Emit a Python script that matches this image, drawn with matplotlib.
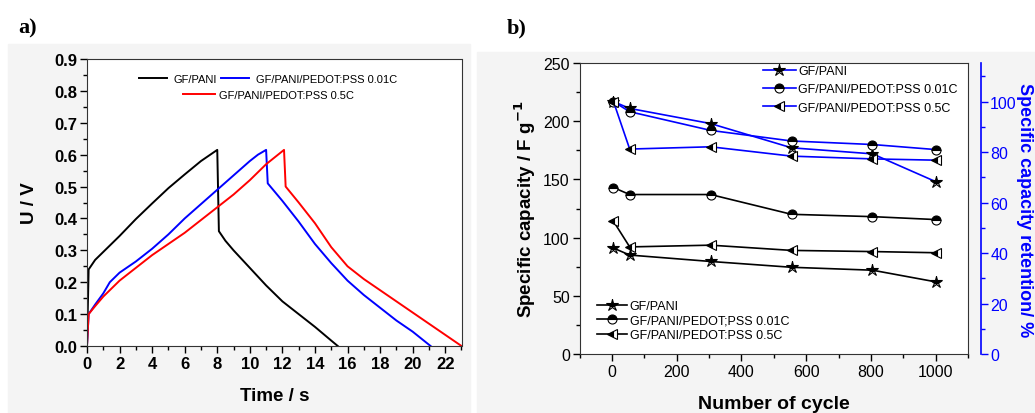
import matplotlib.pyplot as plt
from matplotlib.patches import Rectangle
from matplotlib.ticker import MultipleLocator

plt.rcParams['font.family'] = ['Liberation Sans', 'DejaVu Sans']

# a) galvanostatic charge / discharge curves (time in s, U in V)
pani_t = [0, 0.1, 0.5, 1, 2, 3, 4, 5, 6, 7, 8, 8.1, 8.5, 9, 10, 11, 12, 13, 14, 15, 15.4]
pani_u = [0, 0.24, 0.27, 0.295, 0.345, 0.398, 0.447, 0.495, 0.538, 0.58, 0.615,
          0.36, 0.33, 0.30, 0.245, 0.19, 0.14, 0.10, 0.06, 0.017, 0]
pedot01_t = [0, 0.1, 0.5, 1, 1.4, 2, 3, 4, 5, 6, 7, 8, 9, 10, 10.5, 11,
             11.1, 12, 13, 14, 15, 16, 17, 18, 19, 20, 21.1]
pedot01_u = [0, 0.1, 0.13, 0.165, 0.2, 0.23, 0.265, 0.305, 0.35, 0.4, 0.445, 0.49, 0.535,
             0.58, 0.6, 0.615, 0.51, 0.455, 0.39, 0.32, 0.26, 0.205, 0.16, 0.12, 0.08, 0.045, 0]
pedot05_t = [0, 0.1, 0.5, 1, 2, 3, 4, 5, 6, 7, 8, 9, 10, 11, 12.1,
             12.2, 13, 14, 15, 16, 17, 18, 19, 20, 21, 22, 23]
pedot05_u = [0, 0.1, 0.125, 0.155, 0.205, 0.245, 0.285, 0.32, 0.355, 0.395, 0.435, 0.475,
             0.52, 0.57, 0.615, 0.50, 0.45, 0.385, 0.31, 0.25, 0.21, 0.175, 0.14, 0.105,
             0.07, 0.035, 0]

# b) cycling: specific capacity (F/g) and retention (%)
cycles = [5, 55, 305, 555, 805, 1000]
cap_pani = [91, 85, 79.5, 74.5, 72, 62]
cap_pedot01 = [143, 137, 137, 120, 118, 115.5]
cap_pedot05 = [114, 92, 93.5, 89, 88, 87]
ret_pani = [100, 97.3, 91.3, 81.7, 79.3, 68.3]
ret_pedot01 = [100, 96, 88.6, 84.4, 83, 81]
ret_pedot05 = [100, 81.2, 82.1, 78.4, 77.3, 76.8]

W, H = 1035, 414
fig = plt.figure(figsize=(W / 100, H / 100), dpi=100)
fig.patches.append(Rectangle((8 / W, 0), 462 / W, 1 - 45 / H, transform=fig.transFigure,
                             color='#f4f4f4', zorder=-10))
fig.patches.append(Rectangle((477 / W, 0), 1, 1 - 53 / H, transform=fig.transFigure,
                             color='#f4f4f4', zorder=-10))


def px_axes(l, t, r, b):
    return fig.add_axes([l / W, 1 - b / H, (r - l) / W, (b - t) / H])


# ---- panel a
ax = px_axes(87, 60, 461.5, 347)
l1, = ax.plot(pani_t, pani_u, color='black', lw=1.4, label='GF/PANI')
l2, = ax.plot(pedot01_t, pedot01_u, color='blue', lw=1.4, label='GF/PANI/PEDOT:PSS 0.01C')
l3, = ax.plot(pedot05_t, pedot05_u, color='red', lw=1.4, label='GF/PANI/PEDOT:PSS 0.5C')
ax.set_xlim(0, 23)
ax.set_ylim(0, 0.9)
ax.xaxis.set_major_locator(MultipleLocator(2))
ax.xaxis.set_minor_locator(MultipleLocator(1))
ax.yaxis.set_major_locator(MultipleLocator(0.1))
ax.yaxis.set_minor_locator(MultipleLocator(0.05))
ax.yaxis.set_major_formatter(lambda v, p: f'{v:.1f}')
ax.tick_params(which='major', direction='out', length=5, width=1, labelsize=12, pad=2)
ax.tick_params(which='minor', direction='out', length=3, width=1)
for lab in ax.get_xticklabels() + ax.get_yticklabels():
    lab.set_fontweight('bold')
for s in ax.spines.values():
    s.set_color('#333333')
ax.set_xlabel('Time / s', fontsize=13.5, fontweight='bold', labelpad=12)
ax.set_ylabel('U / V', fontsize=13.5, fontweight='bold', labelpad=12)
leg1 = ax.legend(handles=[l1, l2], ncol=2, frameon=False, fontsize=8, loc='upper left',
                 bbox_to_anchor=(139 / W, 1 - 75 / H), bbox_transform=fig.transFigure,
                 borderpad=0, borderaxespad=0, handlelength=2.5, handletextpad=0.6,
                 columnspacing=0.4)
ax.add_artist(leg1)
ax.legend(handles=[l3], frameon=False, fontsize=8, loc='upper left',
          bbox_to_anchor=(183 / W, 1 - 91 / H), bbox_transform=fig.transFigure,
          borderpad=0, borderaxespad=0, handlelength=2.9, handletextpad=0.3)
fig.text(18 / W, 1 - 28 / H, 'a)', family='Liberation Serif', fontweight='bold',
         fontsize=16, va='center')

# ---- panel b
bx = px_axes(579.5, 64, 968, 355)
rx = bx.twinx()
mk = dict(mec='black', mfc='black', mfcalt='white', mew=0.8)
b1, = bx.plot(cycles, cap_pani, '-', color='black', lw=1.2, marker='*', ms=9,
              fillstyle='top', label='GF/PANI', **mk)
b2, = bx.plot(cycles, cap_pedot01, '-', color='black', lw=1.2, marker='o', ms=6.5,
              fillstyle='top', label='GF/PANI/PEDOT;PSS 0.01C', **mk)
b3, = bx.plot(cycles, cap_pedot05, '-', color='black', lw=1.2, marker='<', ms=7,
              fillstyle='left', label='GF/PANI/PEDOT:PSS 0.5C', **mk)
r1, = rx.plot(cycles, ret_pani, '-', color='blue', lw=1.2, marker='*', ms=9,
              fillstyle='top', label='GF/PANI', **mk)
r2, = rx.plot(cycles, ret_pedot01, '-', color='blue', lw=1.2, marker='o', ms=6.5,
              fillstyle='top', label='GF/PANI/PEDOT:PSS 0.01C', **mk)
r3, = rx.plot(cycles, ret_pedot05, '-', color='blue', lw=1.2, marker='<', ms=7,
              fillstyle='left', label='GF/PANI/PEDOT:PSS 0.5C', **mk)
bx.set_xlim(-100, 1100)
bx.set_ylim(0, 250)
rx.set_ylim(0, 115.3)
bx.xaxis.set_major_locator(MultipleLocator(200))
bx.xaxis.set_minor_locator(MultipleLocator(100))
bx.yaxis.set_major_locator(MultipleLocator(50))
bx.yaxis.set_minor_locator(MultipleLocator(25))
rx.yaxis.set_major_locator(MultipleLocator(20))
rx.yaxis.set_minor_locator(MultipleLocator(10))
bx.tick_params(which='major', direction='out', length=5, width=1, labelsize=11.5, pad=2)
bx.tick_params(which='minor', direction='out', length=3, width=1)
for s in bx.spines.values():
    s.set_color('#333333')
for side in ('left', 'top', 'bottom'):
    rx.spines[side].set_visible(False)
rx.spines['right'].set_position(('outward', 9))
rx.spines['right'].set_color('blue')
rx.spines['right'].set_linewidth(1.2)
rx.tick_params(which='major', direction='out', length=5, width=1, color='blue',
               labelcolor='blue', labelsize=11.5, pad=2)
rx.tick_params(which='minor', direction='out', length=3, width=1, color='blue')
bx.set_xlabel('Number of cycle', fontsize=14, fontweight='bold', labelpad=12)
bx.set_ylabel('Specific capacity / F g$^{\\mathbf{-1}}$', fontsize=13.5, fontweight='bold',
              labelpad=4)
fig.text(1025 / W, 1 - 210 / H, 'Specific capacity retention/ %', fontsize=13,
         fontweight='bold', color='blue', rotation=270, ha='center', va='center')
rx.legend(handles=[r1, r2, r3], frameon=False, fontsize=9, loc='upper left',
          bbox_to_anchor=(763 / W, 1 - 66 / H), bbox_transform=fig.transFigure,
          borderpad=0, borderaxespad=0, handlelength=2.6, handletextpad=0.2,
          labelspacing=0.5)
bx.legend(handles=[b1, b2, b3], frameon=False, fontsize=9, loc='upper left',
          bbox_to_anchor=(597 / W, 1 - 301 / H), bbox_transform=fig.transFigure,
          borderpad=0, borderaxespad=0, handlelength=2.4, handletextpad=0.2,
          labelspacing=0.2)
fig.text(507 / W, 1 - 28 / H, 'b)', family='Liberation Serif', fontweight='bold',
         fontsize=16, va='center')

fig.savefig('out.png', dpi=100)
